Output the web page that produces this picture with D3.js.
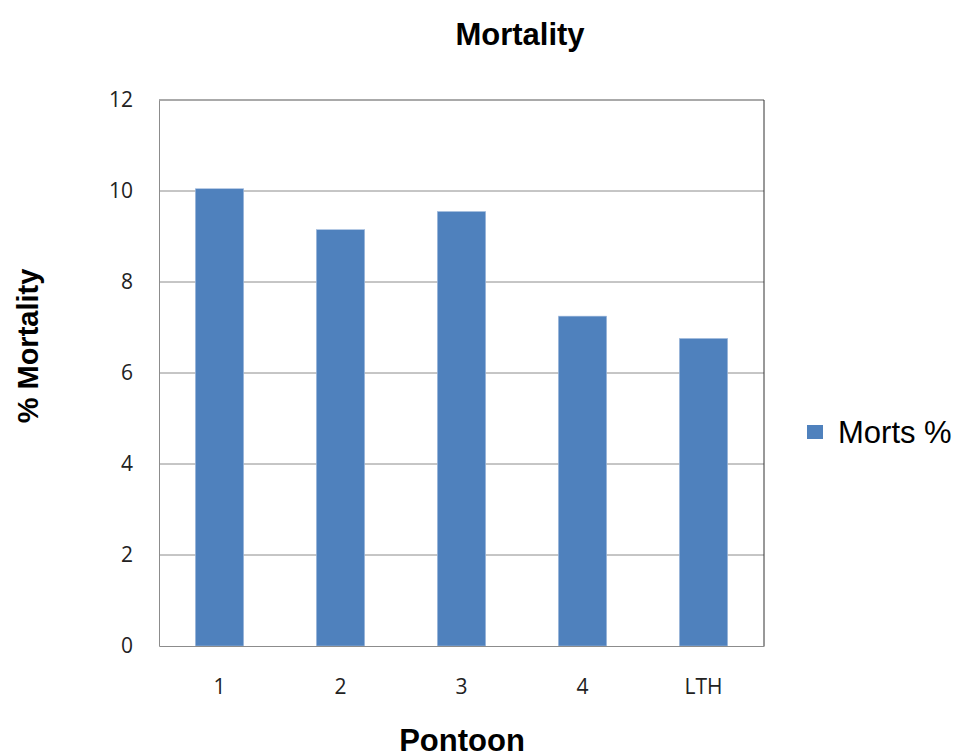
<!DOCTYPE html>
<html lang="en">
<head>
<meta charset="UTF-8">
<script src="https://d3js.org/d3.v7.min.js"></script>
<title>Mortality</title>
<style>
  body { margin: 0; background: #fff; }
  .title { font-family: "Liberation Sans", Arial, sans-serif; font-weight: bold; }
</style>
</head>
<body>
<svg width="953" height="752"></svg>
<script>
var pontoons = ["1", "2", "3", "4", "LTH"];
var mortsPct = [10.05, 9.15, 9.55, 7.25, 6.76];
var yTicks = [0, 2, 4, 6, 8, 10, 12];

var svg = d3.select("svg"),
    marginLeft = 159, marginTop = 100, width = 605, height = 546;

var x = d3.scaleBand().domain(pontoons).range([0, width]).paddingInner(0.6).paddingOuter(0.3);
var y = d3.scaleLinear().domain([0, 12]).range([height, 0]);

var g = svg.append("g").attr("transform", "translate(" + marginLeft + "," + marginTop + ")");

// gridlines
g.selectAll(".grid")
  .data(yTicks.slice(1, -1))
  .enter().append("line")
  .attr("x1", 0).attr("x2", width)
  .attr("y1", function(d) { return y(d); })
  .attr("y2", function(d) { return y(d); })
  .attr("stroke", "#8c8c8c").attr("stroke-width", 1);

// bars
g.selectAll(".bar")
  .data(mortsPct)
  .enter().append("rect")
  .attr("x", function(d, i) { return x(pontoons[i]); })
  .attr("y", function(d) { return y(d); })
  .attr("width", x.bandwidth())
  .attr("height", function(d) { return height - y(d); })
  .attr("fill", "#4f81bd")
  .attr("stroke", "#a9c0e0").attr("stroke-width", 0.6);

// plot border
g.append("line").attr("x1", 0).attr("x2", width).attr("y1", 0).attr("y2", 0).attr("stroke", "#555");
g.append("line").attr("x1", width).attr("x2", width).attr("y1", 0).attr("y2", height).attr("stroke", "#333");

// axes
var yAxis = g.append("g")
  .call(d3.axisLeft(y).tickValues(yTicks).tickSize(0).tickPadding(26))
  .attr("font-family", "Open Sans, Liberation Sans, sans-serif")
  .attr("font-size", 21);
yAxis.select(".domain").attr("stroke", "#8c8c8c");
yAxis.selectAll(".tick text").attr("fill", "#222");

var xAxis = g.append("g")
  .attr("transform", "translate(0," + height + ")")
  .call(d3.axisBottom(x).tickSize(0).tickPadding(33))
  .attr("font-family", "Open Sans, Liberation Sans, sans-serif")
  .attr("font-size", 21);
xAxis.select(".domain").attr("stroke", "#8c8c8c");
xAxis.selectAll(".tick text").attr("fill", "#222");

// titles
svg.append("text").attr("class", "title")
  .attr("x", 520).attr("y", 45).attr("text-anchor", "middle")
  .attr("font-size", "31px").text("Mortality");

svg.append("text").attr("class", "title")
  .attr("x", 462).attr("y", 751).attr("text-anchor", "middle")
  .attr("font-size", "31px").text("Pontoon");

svg.append("text").attr("class", "title")
  .attr("transform", "translate(38,346) rotate(-90)")
  .attr("text-anchor", "middle")
  .attr("font-size", "29px").text("% Mortality");

// legend
var leg = svg.append("g").attr("transform", "translate(807,425)");
leg.append("rect").attr("width", 16).attr("height", 14).attr("fill", "#4f81bd");
leg.append("text").attr("x", 31).attr("y", 18)
  .attr("font-family", "Liberation Sans, Arial, sans-serif")
  .attr("font-size", "31px").text("Morts %");
</script>
</body>
</html>
